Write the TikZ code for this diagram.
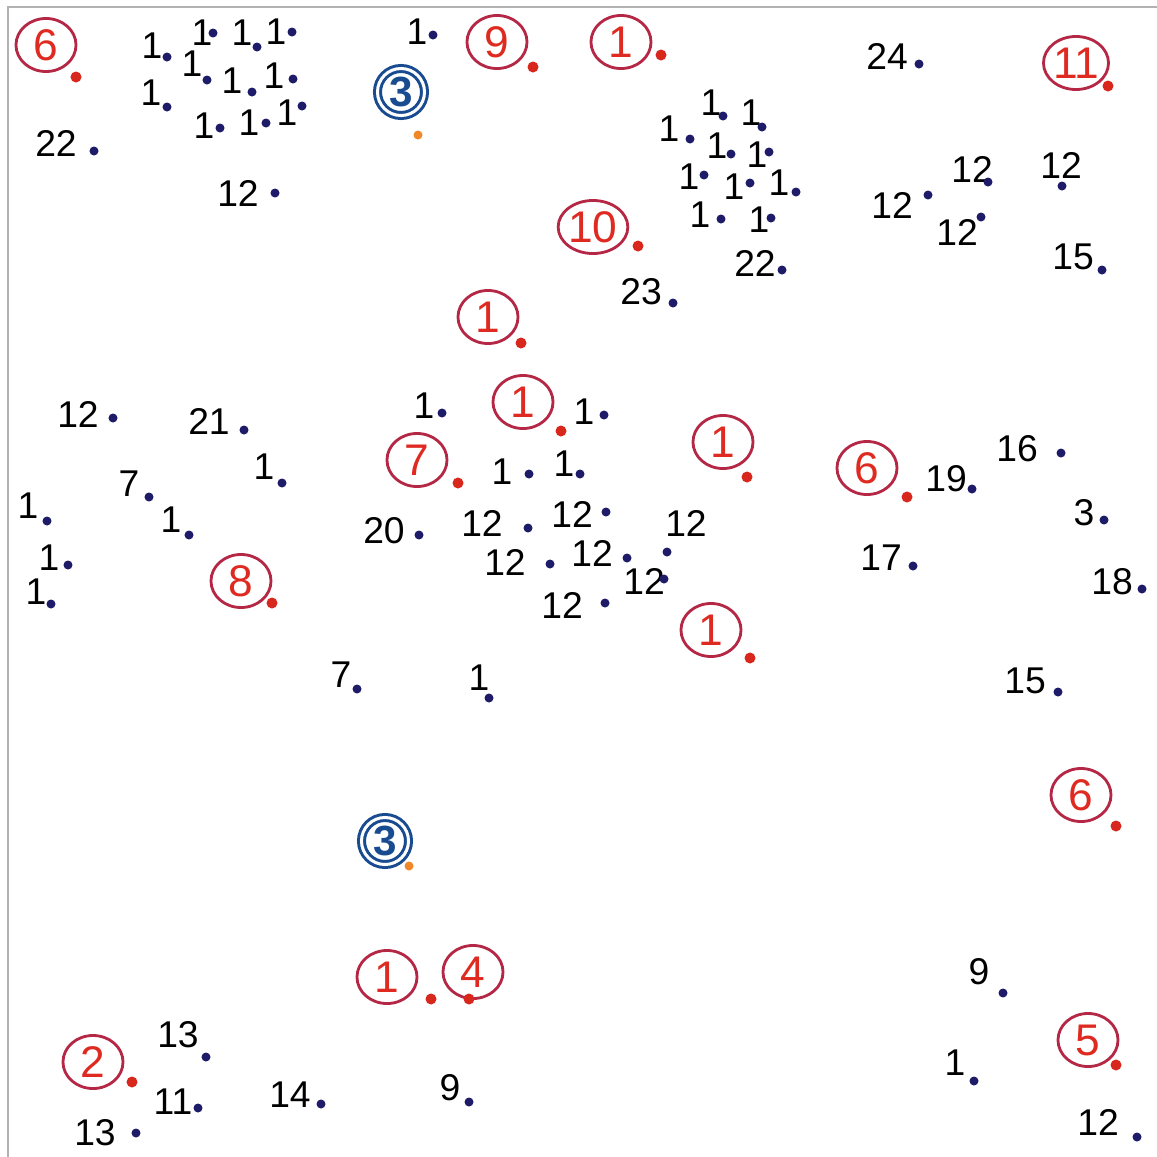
\documentclass[tikz,border=0pt]{standalone}
\usepackage{fontspec}
\setmainfont{Liberation Sans}
\usetikzlibrary{shapes.geometric}
\definecolor{dotblue}{RGB}{30,28,105}
\definecolor{dotred}{RGB}{216,40,30}
\definecolor{ringred}{RGB}{180,40,70}
\definecolor{numred}{RGB}{222,42,32}
\definecolor{ringblue}{RGB}{25,75,145}
\definecolor{dotorange}{RGB}{240,135,40}

\begin{document}
\begin{tikzpicture}[x=0.01cm, y=-0.01cm,
  dot/.style={circle, fill=dotblue, inner sep=0pt, minimum size=0.09cm},
  reddot/.style={circle, fill=dotred, inner sep=0pt, minimum size=0.11cm},
  orangedot/.style={circle, fill=dotorange, inner sep=0pt, minimum size=0.09cm},
  num/.style={inner sep=0pt, font=\fontsize{10.6}{12}\selectfont},
  ring/.style={ellipse, draw=ringred, line width=0.8pt, text=numred, minimum width=0.6cm, minimum height=0.53cm, inner sep=0pt, font=\fontsize{12.6}{14}\selectfont},
  bluering/.style={circle, draw=ringblue, line width=0.03cm, double=white, double distance=0.03cm, minimum size=0.47cm, inner sep=0pt, text=ringblue, font=\fontsize{12}{13}\selectfont\bfseries}]
  \useasboundingbox (0,0) rectangle (1157,1157);
  \draw[gray!60, line width=0.4pt] (8,1157) -- (8,7) -- (1157,7);

  % black numbers: label x/y, dot x/y, text
  \foreach \lx/\ly/\dx/\dy/\t [count=\i] in {
      56/143/94/151/22, 152/46/167/57/1, 202/33/213/33/1, 242/33/257/47/1,
      276/32/292/32/1, 192/64/207/80/1, 232/81/252/92/1, 274/76/293/79/1,
      151/93/167/107/1, 204/126/220/128/1, 249/123/266/123/1, 287/113/302/106/1,
      238/193/275/193/12, 417/32/433/35/1,
      711/103/723/116/1, 751/113/762/127/1, 669/129/690/139/1, 717/146/731/154/1,
      757/155/769/152/1, 689/177/704/175/1, 734/187/750/183/1, 779/183/796/192/1,
      700/215/721/219/1, 759/220/771/218/1, 755/263/782/270/22, 641/292/673/303/23,
      887/56/919/64/24, 972/169/988/182/12, 1061/165/1062/186/12, 892/205/928/195/12,
      957/232/981/217/12, 1073/257/1102/270/15,
      78/414/113/418/12, 209/421/244/430/21, 264/467/282/483/1, 129/484/149/497/7,
      28/506/47/521/1, 171/520/189/535/1, 49/558/68/565/1, 36/592/51/604/1,
      424/406/442/413/1, 584/412/604/415/1, 502/472/529/474/1, 564/464/580/474/1,
      384/531/419/535/20, 482/523/528/528/12, 572/514/606/512/12, 686/523/667/552/12,
      505/562/550/564/12, 592/553/627/558/12, 644/581/664/579/12, 562/605/605/603/12,
      946/479/972/489/19, 1017/449/1061/453/16, 1084/513/1104/520/3, 881/558/913/566/17,
      1112/582/1142/589/18, 1025/681/1058/692/15,
      341/675/357/689/7, 479/678/489/698/1,
      178/1035/206/1057/13, 173/1102/198/1108/11, 290/1095/321/1104/14,
      95/1133/136/1133/13, 450/1088/469/1102/9,
      979/972/1003/993/9, 955/1063/974/1081/1, 1098/1122/1137/1137/12} {
    \node[num] (n\i) at (\lx,\ly) {\t};
    \node[dot] (d\i) at (\dx,\dy) {};
  }

  % red circled numbers: ring x/y, dot x/y, text
  \foreach \ex/\ey/\dx/\dy/\t [count=\i] in {
      46/45/76/77/6, 497/42/533/67/9, 621/42/661/55/1, 1076/63/1108/86/11,
      593/227/638/246/10, 488/317/521/343/1, 523/402/561/431/1, 723/442/747/477/1,
      417/460/458/483/7, 241/581/272/603/8, 711/630/750/658/1, 867/468/907/497/6,
      1081/795/1116/826/6, 387/977/431/999/1, 473/972/469/999/4, 93/1062/132/1082/2,
      1088/1040/1116/1065/5} {
    \node[ring] (r\i) at (\ex,\ey) {\t};
    \node[reddot] (rd\i) at (\dx,\dy) {};
  }

  % blue double rings
  \node[bluering] (b1) at (401,92) {3};
  \node[orangedot] (bd1) at (418,135) {};
  \node[bluering] (b2) at (385,841) {3};
  \node[orangedot] (bd2) at (409,866) {};
\end{tikzpicture}
\end{document}
